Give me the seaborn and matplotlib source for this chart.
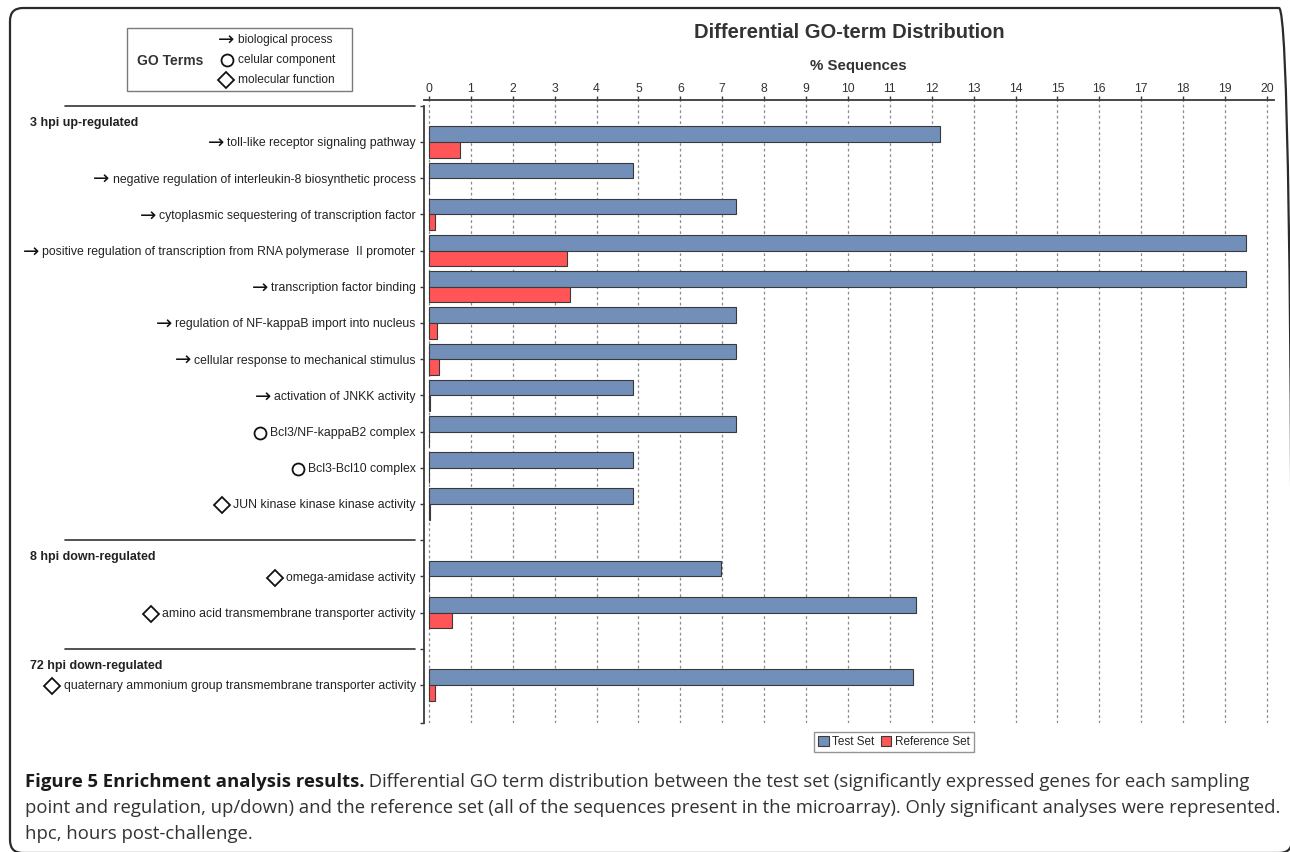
import matplotlib
matplotlib.use("Agg")
import matplotlib.pyplot as plt
import seaborn as sns
import pandas as pd
from matplotlib.patches import FancyBboxPatch, Rectangle
from matplotlib.lines import Line2D
from matplotlib.transforms import blended_transform_factory, IdentityTransform

# ---- data -----------------------------------------------------------------
groups = ["3 hpi up-regulated", "8 hpi down-regulated", "72 hpi down-regulated"]
group_sizes = [11, 2, 1]

terms = [
    "toll-like receptor signaling pathway",
    "negative regulation of interleukin-8 biosynthetic process",
    "cytoplasmic sequestering of transcription factor",
    "positive regulation of transcription from RNA polymerase  II promoter",
    "transcription factor binding",
    "regulation of NF-kappaB import into nucleus",
    "cellular response to mechanical stimulus",
    "activation of JNKK activity",
    "Bcl3/NF-kappaB2 complex",
    "Bcl3-Bcl10 complex",
    "JUN kinase kinase kinase activity",
    "omega-amidase activity",
    "amino acid transmembrane transporter activity",
    "quaternary ammonium group transmembrane transporter activity",
]
go_type = ["bp", "bp", "bp", "bp", "bp", "bp", "bp", "bp",
           "cc", "cc", "mf", "mf", "mf", "mf"]
test_pct = [12.2, 4.88, 7.32, 19.51, 19.51, 7.32, 7.32, 4.88,
            7.32, 4.88, 4.88, 6.98, 11.63, 11.55]
ref_pct = [0.74, 0.0, 0.14, 3.29, 3.36, 0.19, 0.24, 0.02,
           0.01, 0.01, 0.02, 0.01, 0.55, 0.14]

set_names = ["Test Set", "Reference Set"]
go_legend = [("bp", "biological process"),
             ("cc", "celular component"),
             ("mf", "molecular function")]

title = "Differential GO-term Distribution"
xlabel = "% Sequences"
caption_bold = "Figure 5 Enrichment analysis results."
caption_lines = [
    " Differential GO term distribution between the test set (significantly expressed genes for each sampling",
    "point and regulation, up/down) and the reference set (all of the sequences present in the microarray). Only significant analyses were represented.",
    "hpc, hours post-challenge.",
]

# ---- long-form table --------------------------------------------------------
df = pd.DataFrame({
    "term": terms * 2,
    "set": [set_names[0]] * len(terms) + [set_names[1]] * len(terms),
    "pct": test_pct + ref_pct,
})

# category order with an empty slot between groups
order = []
group_rows = []
start = 0
for gi, n in enumerate(group_sizes):
    if gi > 0:
        order.append(" " * gi)
    group_rows.append(len(order) - 1 if gi > 0 else -1)
    order.extend(terms[start:start + n])
    start += n

# ---- style ----------------------------------------------------------------
sns.set_theme(style="white")
plt.rcParams["font.family"] = ["Liberation Sans", "DejaVu Sans"]

W, H = 1290, 852
fig = plt.figure(figsize=(W / 100, H / 100), dpi=100)
fig.patch.set_facecolor("white")

def fx(px):
    return px / W

def fy(py):
    return 1 - py / H

ax = fig.add_axes([fx(424), fy(723), fx(1274) - fx(424), fy(100) - fy(723)])

BLUE = "#728fb9"
RED = "#ff5557"
DARK = "#333333"

sns.barplot(data=df, y="term", x="pct", hue="set", order=order,
            hue_order=set_names, palette=[BLUE, RED], orient="h",
            width=0.86, edgecolor="#3a3a3a", linewidth=0.8, ax=ax,
            saturation=1)

ax.set_xlim(-0.12, 20.17)
ax.set_ylim(16.05, -1.16)
ax.set_xticks(range(0, 21))
ax.xaxis.tick_top()
ax.set_xlabel("")
ax.set_ylabel("")
ax.grid(axis="x", linestyle=(0, (2.2, 2.2)), color="#8c8c8c", linewidth=0.9)
ax.grid(axis="y", visible=False)
ax.set_axisbelow(True)

for side in ("right", "bottom"):
    ax.spines[side].set_visible(False)
for side in ("top", "left"):
    ax.spines[side].set_color("#3a3a3a")
    ax.spines[side].set_linewidth(1.3)
ax.spines["left"].set_bounds(-1, 16.05)

ax.tick_params(axis="x", which="major", top=True, bottom=False, length=3,
               width=1, color="#3a3a3a", labelsize=8.8, labelcolor=DARK, pad=0.5)
ax.tick_params(axis="y", which="both", left=True, length=3, width=1,
               color="#3a3a3a", labelsize=8.8, labelcolor="#222222", pad=3)
ax.set_yticks([-1, 16.05], minor=True)

# legend for the two sets, below the plot
sns.move_legend(ax, "center", bbox_to_anchor=(fx(894), fy(742)),
                bbox_transform=fig.transFigure, ncol=2, title=None,
                frameon=True, fancybox=False, fontsize=8.5,
                handlelength=0.9, handleheight=0.9, handletextpad=0.3,
                columnspacing=0.5, borderpad=0.35, borderaxespad=0)
leg = ax.get_legend()
leg.get_frame().set_edgecolor("#7a7a7a")
leg.get_frame().set_linewidth(1.0)
for h in leg.legend_handles:
    h.set_edgecolor("#3a3a3a")
    h.set_linewidth(0.8)

# titles
fig.text(fx(849), fy(33), title, ha="center", va="center", fontsize=14.5,
         fontweight="bold", color=DARK)
fig.text(fx(858), fy(66), xlabel, ha="center", va="center", fontsize=10.8,
         fontweight="bold", color=DARK)

# group separators and group headings
lab_tr = blended_transform_factory(fig.transFigure, ax.transData)
for gi, g in enumerate(groups):
    row = group_rows[gi]
    ax.add_line(Line2D([fx(65), fx(415)], [row, row], transform=lab_tr,
                       color="#333333", linewidth=1.2, clip_on=False))
    ax.text(fx(30), row + 0.47, g, transform=lab_tr, ha="left", va="center",
            fontsize=9, fontweight="bold", color="#222222", clip_on=False)


def draw_symbol(kind, x_right, y_center):
    """Draw a GO-type symbol whose right edge sits at x_right (display px)."""
    if kind == "bp":
        fig.text(fx(x_right + 1), y_center / H, "\u2192",
                 ha="right", va="center", fontsize=14, color="#111111",
                 family="DejaVu Sans")
    elif kind == "cc":
        fig.add_artist(Line2D([(x_right - 6) / W], [y_center / H],
                              marker="o", markersize=8.6, markerfacecolor="none",
                              markeredgecolor="#111111", markeredgewidth=1.3,
                              transform=fig.transFigure))
    else:
        fig.add_artist(Line2D([(x_right - 7.5) / W], [y_center / H],
                              marker="D", markersize=7.8, markerfacecolor="none",
                              markeredgecolor="#111111", markeredgewidth=1.3,
                              transform=fig.transFigure))


fig.canvas.draw()
renderer = fig.canvas.get_renderer()
kind_of = dict(zip(terms, go_type))
for lab in ax.get_yticklabels():
    txt = lab.get_text()
    if txt in kind_of:
        bb = lab.get_window_extent(renderer)
        draw_symbol(kind_of[txt], bb.x0 - 4, (bb.y0 + bb.y1) / 2)

# GO-type legend box, top left
fig.add_artist(Rectangle((fx(127), fy(91)), fx(352) - fx(127), fy(28) - fy(91),
                         transform=fig.transFigure, facecolor="white",
                         edgecolor="#7a7a7a", linewidth=1.0))
fig.text(fx(137), fy(61), "GO Terms", ha="left", va="center", fontsize=10,
         fontweight="bold", color="#333333")
for i, (kind, name) in enumerate(go_legend):
    yy = 40 + 20 * i
    draw_symbol(kind, 233, H - yy)
    fig.text(fx(238), fy(yy), name, ha="left", va="center", fontsize=8.6,
             color="#222222")

# outer rounded frame
fig.add_artist(FancyBboxPatch((10, -1), 1282, 845,
                              boxstyle="round,pad=0,rounding_size=13",
                              transform=IdentityTransform(), facecolor="none",
                              edgecolor="#2b2b2b", linewidth=1.6))

# caption
cap_family = ["Liberation Sans Narrow", "Open Sans", "DejaVu Sans"]
cap_size = 12
t0 = fig.text(fx(25), fy(787), caption_bold, ha="left", va="baseline",
              fontsize=cap_size, fontweight="bold", color="#1a1a1a",
              family=cap_family)
t1 = fig.text(fx(25), fy(787), caption_lines[0], ha="left", va="baseline",
              fontsize=cap_size, color="#333333", family=cap_family)
t2 = fig.text(fx(25), fy(813), caption_lines[1], ha="left", va="baseline",
              fontsize=cap_size, color="#333333", family=cap_family)
t3 = fig.text(fx(25), fy(839), caption_lines[2], ha="left", va="baseline",
              fontsize=cap_size, color="#333333", family=cap_family)
fig.canvas.draw()
w2 = t2.get_window_extent(renderer).width
scale = (1272 - 25) / w2
for t in (t0, t1, t2, t3):
    t.set_fontsize(cap_size * scale)
fig.canvas.draw()
bx = t0.get_window_extent(renderer).x1
t1.set_x(bx / W)

fig.savefig("out.png", dpi=100, facecolor="white")
